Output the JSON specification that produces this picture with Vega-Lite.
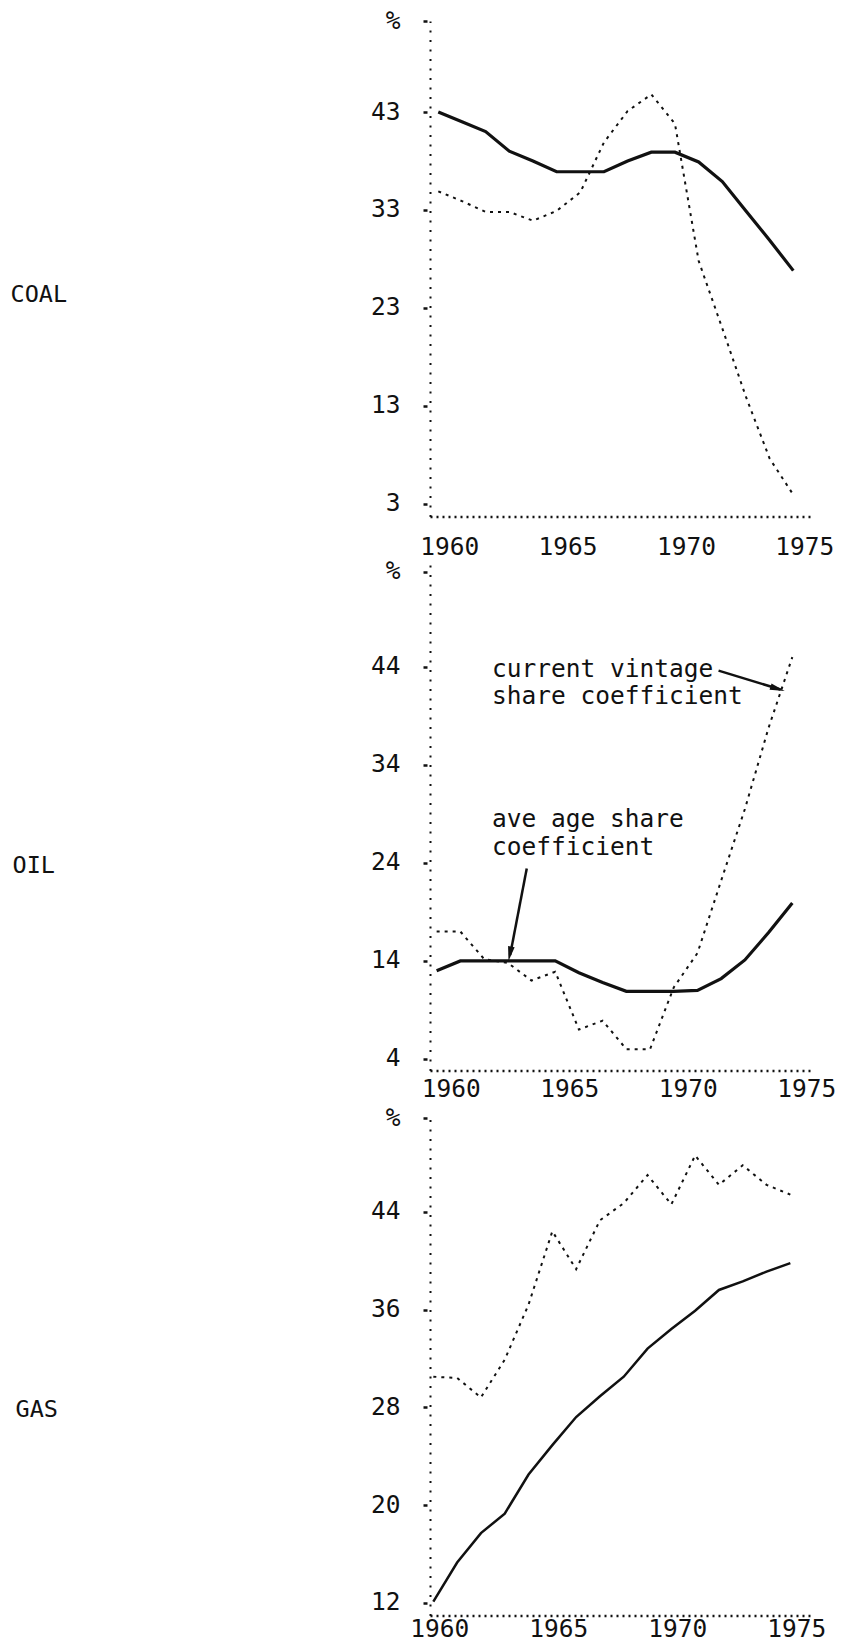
{
  "$schema": "https://vega.github.io/schema/vega-lite/v6.json",
  "padding": {"left": 10, "top": 8, "right": 10, "bottom": 5},
  "background": "white",
  "bounds": "flush",
  "spacing": 47,
  "datasets": {
    "shares": [
      {"panel": "COAL", "series": "ave", "year": 1960, "value": 43.0},
      {"panel": "COAL", "series": "ave", "year": 1961, "value": 42.0},
      {"panel": "COAL", "series": "ave", "year": 1962, "value": 41.0},
      {"panel": "COAL", "series": "ave", "year": 1963, "value": 39.0},
      {"panel": "COAL", "series": "ave", "year": 1964, "value": 38.0},
      {"panel": "COAL", "series": "ave", "year": 1965, "value": 36.9},
      {"panel": "COAL", "series": "ave", "year": 1966, "value": 36.9},
      {"panel": "COAL", "series": "ave", "year": 1967, "value": 36.9},
      {"panel": "COAL", "series": "ave", "year": 1968, "value": 38.0},
      {"panel": "COAL", "series": "ave", "year": 1969, "value": 38.9},
      {"panel": "COAL", "series": "ave", "year": 1970, "value": 38.9},
      {"panel": "COAL", "series": "ave", "year": 1971, "value": 37.9},
      {"panel": "COAL", "series": "ave", "year": 1972, "value": 35.9},
      {"panel": "COAL", "series": "ave", "year": 1973, "value": 32.9},
      {"panel": "COAL", "series": "ave", "year": 1974, "value": 29.9},
      {"panel": "COAL", "series": "ave", "year": 1975, "value": 26.8},
      {"panel": "COAL", "series": "vintage", "year": 1960, "value": 34.9},
      {"panel": "COAL", "series": "vintage", "year": 1961, "value": 33.9},
      {"panel": "COAL", "series": "vintage", "year": 1962, "value": 32.8},
      {"panel": "COAL", "series": "vintage", "year": 1963, "value": 32.8},
      {"panel": "COAL", "series": "vintage", "year": 1964, "value": 31.9},
      {"panel": "COAL", "series": "vintage", "year": 1965, "value": 32.9},
      {"panel": "COAL", "series": "vintage", "year": 1966, "value": 34.8},
      {"panel": "COAL", "series": "vintage", "year": 1967, "value": 39.9},
      {"panel": "COAL", "series": "vintage", "year": 1968, "value": 43.1},
      {"panel": "COAL", "series": "vintage", "year": 1969, "value": 44.8},
      {"panel": "COAL", "series": "vintage", "year": 1970, "value": 41.8},
      {"panel": "COAL", "series": "vintage", "year": 1971, "value": 27.8},
      {"panel": "COAL", "series": "vintage", "year": 1972, "value": 20.9},
      {"panel": "COAL", "series": "vintage", "year": 1973, "value": 13.9},
      {"panel": "COAL", "series": "vintage", "year": 1974, "value": 7.6},
      {"panel": "COAL", "series": "vintage", "year": 1975, "value": 3.9},
      {"panel": "OIL", "series": "ave", "year": 1960, "value": 13.0},
      {"panel": "OIL", "series": "ave", "year": 1961, "value": 14.0},
      {"panel": "OIL", "series": "ave", "year": 1962, "value": 14.0},
      {"panel": "OIL", "series": "ave", "year": 1963, "value": 14.0},
      {"panel": "OIL", "series": "ave", "year": 1964, "value": 14.0},
      {"panel": "OIL", "series": "ave", "year": 1965, "value": 14.0},
      {"panel": "OIL", "series": "ave", "year": 1966, "value": 12.8},
      {"panel": "OIL", "series": "ave", "year": 1967, "value": 11.8},
      {"panel": "OIL", "series": "ave", "year": 1968, "value": 10.9},
      {"panel": "OIL", "series": "ave", "year": 1969, "value": 10.9},
      {"panel": "OIL", "series": "ave", "year": 1970, "value": 10.9},
      {"panel": "OIL", "series": "ave", "year": 1971, "value": 11.0},
      {"panel": "OIL", "series": "ave", "year": 1972, "value": 12.2},
      {"panel": "OIL", "series": "ave", "year": 1973, "value": 14.1},
      {"panel": "OIL", "series": "ave", "year": 1974, "value": 16.9},
      {"panel": "OIL", "series": "ave", "year": 1975, "value": 19.9},
      {"panel": "OIL", "series": "vintage", "year": 1960, "value": 17.0},
      {"panel": "OIL", "series": "vintage", "year": 1961, "value": 17.0},
      {"panel": "OIL", "series": "vintage", "year": 1962, "value": 14.2},
      {"panel": "OIL", "series": "vintage", "year": 1963, "value": 13.8},
      {"panel": "OIL", "series": "vintage", "year": 1964, "value": 12.0},
      {"panel": "OIL", "series": "vintage", "year": 1965, "value": 12.9},
      {"panel": "OIL", "series": "vintage", "year": 1966, "value": 7.0},
      {"panel": "OIL", "series": "vintage", "year": 1967, "value": 7.9},
      {"panel": "OIL", "series": "vintage", "year": 1968, "value": 5.0},
      {"panel": "OIL", "series": "vintage", "year": 1969, "value": 5.0},
      {"panel": "OIL", "series": "vintage", "year": 1970, "value": 11.3},
      {"panel": "OIL", "series": "vintage", "year": 1971, "value": 14.8},
      {"panel": "OIL", "series": "vintage", "year": 1972, "value": 22.2},
      {"panel": "OIL", "series": "vintage", "year": 1973, "value": 29.5},
      {"panel": "OIL", "series": "vintage", "year": 1974, "value": 37.8},
      {"panel": "OIL", "series": "vintage", "year": 1975, "value": 45.0},
      {"panel": "GAS", "series": "ave", "year": 1960, "value": 12.1},
      {"panel": "GAS", "series": "ave", "year": 1961, "value": 15.3},
      {"panel": "GAS", "series": "ave", "year": 1962, "value": 17.7},
      {"panel": "GAS", "series": "ave", "year": 1963, "value": 19.3},
      {"panel": "GAS", "series": "ave", "year": 1964, "value": 22.5},
      {"panel": "GAS", "series": "ave", "year": 1965, "value": 24.9},
      {"panel": "GAS", "series": "ave", "year": 1966, "value": 27.2},
      {"panel": "GAS", "series": "ave", "year": 1967, "value": 28.9},
      {"panel": "GAS", "series": "ave", "year": 1968, "value": 30.5},
      {"panel": "GAS", "series": "ave", "year": 1969, "value": 32.8},
      {"panel": "GAS", "series": "ave", "year": 1970, "value": 34.4},
      {"panel": "GAS", "series": "ave", "year": 1971, "value": 35.9},
      {"panel": "GAS", "series": "ave", "year": 1972, "value": 37.6},
      {"panel": "GAS", "series": "ave", "year": 1973, "value": 38.3},
      {"panel": "GAS", "series": "ave", "year": 1974, "value": 39.1},
      {"panel": "GAS", "series": "ave", "year": 1975, "value": 39.8},
      {"panel": "GAS", "series": "vintage", "year": 1960, "value": 30.5},
      {"panel": "GAS", "series": "vintage", "year": 1961, "value": 30.4},
      {"panel": "GAS", "series": "vintage", "year": 1962, "value": 28.8},
      {"panel": "GAS", "series": "vintage", "year": 1963, "value": 31.9},
      {"panel": "GAS", "series": "vintage", "year": 1964, "value": 36.4},
      {"panel": "GAS", "series": "vintage", "year": 1965, "value": 42.4},
      {"panel": "GAS", "series": "vintage", "year": 1966, "value": 39.3},
      {"panel": "GAS", "series": "vintage", "year": 1967, "value": 43.3},
      {"panel": "GAS", "series": "vintage", "year": 1968, "value": 44.7},
      {"panel": "GAS", "series": "vintage", "year": 1969, "value": 47.0},
      {"panel": "GAS", "series": "vintage", "year": 1970, "value": 44.6},
      {"panel": "GAS", "series": "vintage", "year": 1971, "value": 48.6},
      {"panel": "GAS", "series": "vintage", "year": 1972, "value": 46.2},
      {"panel": "GAS", "series": "vintage", "year": 1973, "value": 47.8},
      {"panel": "GAS", "series": "vintage", "year": 1974, "value": 46.2},
      {"panel": "GAS", "series": "vintage", "year": 1975, "value": 45.4}
    ]
  },
  "config": {
    "view": {"stroke": null},
    "axis": {
      "grid": false,
      "domainColor": "#111",
      "labelColor": "#111",
      "titleColor": "#111",
      "labelFont": "DejaVu Sans Mono",
      "titleFont": "DejaVu Sans Mono",
      "titleFontWeight": "normal",
      "labelFlush": false,
      "labelOverlap": false,
      "labelBound": false
    },
    "axisX": {
      "ticks": false,
      "domainDash": [2, 4],
      "domainWidth": 2.5,
      "labelFontSize": 24.5,
      "labelBaseline": "middle",
      "title": null
    },
    "axisY": {
      "domainDash": [2, 7.5],
      "domainWidth": 2,
      "tickSize": 7,
      "tickWidth": 2.5,
      "tickColor": "#111",
      "tickDash": [0, 3, 4, 10],
      "labelFontSize": 24.5,
      "labelPadding": 23,
      "titleAngle": 0,
      "titleAlign": "left",
      "titleBaseline": "middle",
      "titleFontSize": 23.5
    }
  },
  "vconcat": [
    {
      "width": 382,
      "height": 495.6,
      "data": {"name": "shares"},
      "encoding": {
        "x": {"field": "year", "type": "quantitative",
          "scale": {"domain": [1959.65, 1975.79], "nice": false, "zero": false},
          "axis": {"values": [1960, 1965, 1970, 1975], "format": "d", "labelOffset": 11, "labelPadding": 30.5}},
        "y": {"field": "value", "type": "quantitative",
          "scale": {"domain": [1.67, 52.3], "nice": false, "zero": false},
          "axis": {"values": [3, 13, 23, 33, 43, 52.3], "labelExpr": "datum.value > 50 ? '%' : datum.label",
            "title": "COAL", "titleX": -420, "titleY": 273}}
      },
      "layer": [
        {"transform": [{"filter": "datum.panel === 'COAL' && datum.series === 'ave'"}],
         "mark": {"type": "line", "color": "#111", "strokeWidth": 3.2}},
        {"transform": [{"filter": "datum.panel === 'COAL' && datum.series === 'vintage'"}],
         "mark": {"type": "line", "color": "#111", "strokeWidth": 2, "strokeDash": [3, 5]}}
      ]
    },
    {
      "width": 382,
      "height": 506.5,
      "layer": [
        {
          "data": {"name": "shares"},
          "encoding": {
            "x": {"field": "year", "type": "quantitative",
              "scale": {"domain": [1959.72, 1975.83], "nice": false, "zero": false},
              "axis": {"values": [1960, 1965, 1970, 1975], "format": "d", "labelOffset": 14, "labelPadding": 19}},
            "y": {"field": "value", "type": "quantitative",
              "scale": {"domain": [2.82, 54.5], "nice": false, "zero": false},
              "axis": {"values": [4, 14, 24, 34, 44, 53.7], "labelExpr": "datum.value > 50 ? '%' : datum.label",
                "title": "OIL", "titleX": -418, "titleY": 301.5}}
          },
          "layer": [
            {"transform": [{"filter": "datum.panel === 'OIL' && datum.series === 'ave'"}],
             "mark": {"type": "line", "color": "#111", "strokeWidth": 3.2}},
            {"transform": [{"filter": "datum.panel === 'OIL' && datum.series === 'vintage'"}],
             "mark": {"type": "line", "color": "#111", "strokeWidth": 2, "strokeDash": [3, 5]}}
          ]
        },
        {"data": {"values": [{"label": "current vintage"}]},
         "mark": {"type": "text", "align": "left", "baseline": "middle", "font": "DejaVu Sans Mono", "fontSize": 24.5, "lineHeight": 27, "color": "#111"},
         "encoding": {"x": {"datum": 1962.33, "type": "quantitative"}, "y": {"datum": 43.73, "type": "quantitative"}, "text": {"value": ["current vintage", "share coefficient"]}}},
        {"data": {"values": [{"label": "ave age"}]},
         "mark": {"type": "text", "align": "left", "baseline": "middle", "font": "DejaVu Sans Mono", "fontSize": 24.5, "lineHeight": 28.5, "color": "#111"},
         "encoding": {"x": {"datum": 1962.33, "type": "quantitative"}, "y": {"datum": 28.43, "type": "quantitative"}, "text": {"value": ["ave age share", "coefficient"]}}},
        {"data": {"values": [{"label": "arrow"}]},
         "mark": {"type": "rule", "color": "#111", "strokeWidth": 2.5},
         "encoding": {"x": {"datum": 1971.89, "type": "quantitative"}, "y": {"datum": 43.62, "type": "quantitative"}, "x2": {"datum": 1974.5}, "y2": {"datum": 41.7}}},
        {"data": {"values": [{"label": "arrowhead"}]},
         "mark": {"type": "point", "filled": true, "color": "#111", "opacity": 1, "size": 220, "angle": 107.2, "shape": "M0,-1L0.45,1L-0.45,1Z"},
         "encoding": {"x": {"datum": 1974.38, "type": "quantitative"}, "y": {"datum": 41.76, "type": "quantitative"}}},
        {"data": {"values": [{"label": "arrow"}]},
         "mark": {"type": "rule", "color": "#111", "strokeWidth": 2.5},
         "encoding": {"x": {"datum": 1963.80, "type": "quantitative"}, "y": {"datum": 23.42, "type": "quantitative"}, "x2": {"datum": 1963.1}, "y2": {"datum": 14.6}}},
        {"data": {"values": [{"label": "arrowhead"}]},
         "mark": {"type": "point", "filled": true, "color": "#111", "opacity": 1, "size": 220, "angle": 191.2, "shape": "M0,-1L0.45,1L-0.45,1Z"},
         "encoding": {"x": {"datum": 1963.09, "type": "quantitative"}, "y": {"datum": 14.72, "type": "quantitative"}}}
      ]
    },
    {
      "width": 382,
      "height": 497.4,
      "data": {"name": "shares"},
      "encoding": {
        "x": {"field": "year", "type": "quantitative",
          "scale": {"domain": [1959.86, 1975.91], "nice": false, "zero": false},
          "axis": {"values": [1960, 1965, 1970, 1975], "format": "d", "labelOffset": 6, "labelPadding": 14}},
        "y": {"field": "value", "type": "quantitative",
          "scale": {"domain": [10.97, 51.67], "nice": false, "zero": false},
          "axis": {"values": [12, 20, 28, 36, 44, 51.67], "labelExpr": "datum.value > 50 ? '%' : datum.label",
            "title": "GAS", "titleX": -415, "titleY": 291}}
      },
      "layer": [
        {"transform": [{"filter": "datum.panel === 'GAS' && datum.series === 'ave'"}],
         "mark": {"type": "line", "color": "#111", "strokeWidth": 2.5}},
        {"transform": [{"filter": "datum.panel === 'GAS' && datum.series === 'vintage'"}],
         "mark": {"type": "line", "color": "#111", "strokeWidth": 2, "strokeDash": [3, 5]}}
      ]
    }
  ]
}
